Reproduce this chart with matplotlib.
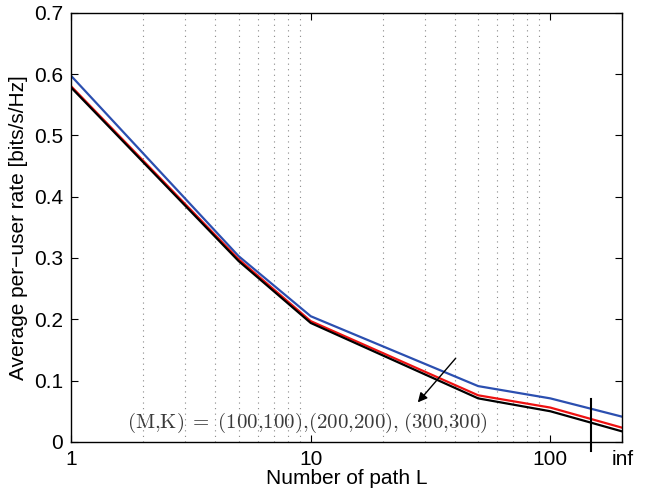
import matplotlib.pyplot as plt
from matplotlib.ticker import LogLocator, NullFormatter

plt.rcParams['font.family'] = ['Liberation Sans', 'DejaVu Sans']
plt.rcParams['mathtext.fontset'] = 'cm'

paths = [1, 5, 10, 50, 100, 200]   # 200 stands for "inf"
rate_100 = [0.597, 0.303, 0.205, 0.091, 0.071, 0.041]
rate_200 = [0.580, 0.298, 0.197, 0.076, 0.056, 0.023]
rate_300 = [0.578, 0.295, 0.194, 0.071, 0.050, 0.017]
xticks = [1, 10, 100, 200]
xticklabels = ['1', '10', '100', 'inf']

fig = plt.figure(figsize=(6.47, 4.91), dpi=100)
ax = fig.add_axes([0.110, 0.100, 0.852, 0.874])

ax.plot(paths, rate_100, color='#2b4fb0', lw=1.6)
ax.plot(paths, rate_200, color='#ee1111', lw=1.6)
ax.plot(paths, rate_300, color='black', lw=1.6)

ax.set_xscale('log')
ax.set_xlim(1, 200)
ax.set_ylim(0, 0.7)
ax.set_xticks(xticks)
ax.set_xticklabels(xticklabels)
ax.xaxis.set_minor_locator(LogLocator(base=10, subs=range(2, 10)))
ax.xaxis.set_minor_formatter(NullFormatter())
ax.set_yticks([0, 0.1, 0.2, 0.3, 0.4, 0.5, 0.6, 0.7])
ax.set_yticklabels(['0', '0.1', '0.2', '0.3', '0.4', '0.5', '0.6', '0.7'])
ax.grid(True, which='minor', axis='x', color='#888888', linestyle=(0, (1, 4)), lw=0.8)

ax.tick_params(which='major', direction='in', top=True, right=True, length=5,
               labelsize=15, pad=6)
ax.tick_params(which='minor', length=0)
for s in ax.spines.values():
    s.set_linewidth(1.0)

ax.set_xlabel('Number of path L', fontsize=15, labelpad=0)
ax.set_ylabel('Average per\u2212user rate [bits/s/Hz]', fontsize=15, labelpad=4)

# break marker before "inf"
ax.plot([148, 148], [-0.015, 0.07], color='black', lw=1.5, clip_on=False)

ax.annotate('', xy=(27.5, 0.061), xytext=(41, 0.14),
            arrowprops=dict(arrowstyle='-|>', color='black', lw=1.0,
                            mutation_scale=14))
ax.text(9.7, 0.031,
        r'$\mathrm{(M{,}K)\;=\;(100{,}100){,}(200{,}200){,}\;(300{,}300)}$',
        ha='center', va='center', fontsize=15, color='#3a3a3a')

fig.savefig('out.png', dpi=100)
